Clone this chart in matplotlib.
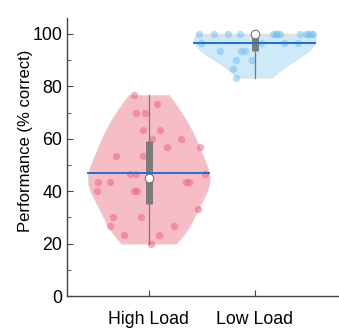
import numpy as np
import matplotlib.pyplot as plt

plt.rcParams.update({
    "font.family": ["Liberation Sans", "DejaVu Sans"],
    "axes.edgecolor": "#444",
    "axes.linewidth": 1.0,
})

groups = ["High Load", "Low Load"]

high_vals = [76.67, 73.33, 70, 70, 63.33, 63.33, 60, 60, 56.67, 56.67,
             53.33, 53.33, 46.67, 46.67, 46.67, 43.33, 43.33, 43.33, 43.33, 40,
             40, 40, 33.33, 30, 30, 26.67, 26.67, 23.33, 23.33, 20]
high_jit = [-0.14, 0.08, -0.12, -0.04, -0.05, 0.11, 0.03, 0.30, 0.17, 0.48,
            -0.31, -0.05, -0.18, -0.12, 0.53, -0.48, -0.37, 0.35, 0.38, -0.49,
            -0.14, -0.11, 0.46, -0.34, -0.07, -0.37, 0.24, -0.23, 0.10, 0.02]

low_vals = [100] * 13 + [96.67] * 4 + [93.33] * 3 + [90, 90, 86.67, 83.33]
low_jit = [-0.53, -0.38, -0.25, -0.14, 0.175, 0.20, 0.235, 0.43, 0.48, 0.53,
           0.55, 0.21, 0.50,
           -0.51, 0.06, 0.28, 0.41,
           -0.33, -0.13, -0.09,
           -0.175, -0.03, -0.21, -0.175]

fills = ["#f6b6c1", "#c9e7f8"]
dots = ["#ec5f7b", "#6cc0ee"]
bandwidths = [8.0, 7.0]
HALF_W = 0.575


def kde(vals, grid, bw):
    v = np.asarray(vals)[:, None]
    return np.exp(-0.5 * ((grid[None, :] - v) / bw) ** 2).sum(axis=0)


fig = plt.figure(figsize=(3.39, 3.29), dpi=100)
ax = fig.add_axes([0.198, 0.1, 0.81, 0.845])

for i, (vals, jit) in enumerate([(high_vals, high_jit), (low_vals, low_jit)]):
    pos = i + 1
    vals = np.asarray(vals, dtype=float)
    grid = np.linspace(vals.min(), vals.max(), 200)
    dens = kde(vals, grid, bandwidths[i])
    w = dens / dens.max() * HALF_W
    ax.fill_betweenx(grid, pos - w, pos + w, color=fills[i], alpha=0.9,
                     edgecolor="#d8d8d8", linewidth=0.6, zorder=1)
    ax.scatter(pos + np.asarray(jit), vals, s=28, color=dots[i], alpha=0.5,
               linewidths=0, zorder=2)
    # whisker, IQR box, mean line, median
    ax.plot([pos, pos], [vals.min(), vals.max()], color="#777", lw=0.9, zorder=3)
    q1, q3 = np.percentile(vals, [25, 75])
    ax.plot([pos, pos], [q1, q3], color="#7a7a7a", lw=5, solid_capstyle="butt",
            zorder=4)
    mean = vals.mean()
    mw = np.interp(mean, grid, w)
    ax.plot([pos - mw, pos + mw], [mean, mean], color="#1f6fd2", lw=1.4, zorder=5)
    ax.scatter([pos], [np.median(vals)], s=38, color="white", edgecolors="#777",
               linewidths=0.8, zorder=6)

ax.set_xlim(0.23, 2.82)
ax.set_ylim(0, 106)
ax.set_xticks([1, 2])
ax.set_xticklabels(groups, fontsize=12.8)
ax.set_yticks(range(0, 101, 20))
ax.set_yticks(range(10, 101, 20), minor=True)
ax.tick_params(axis="y", labelsize=12.8)
ax.tick_params(direction="in", length=4, color="#444", pad=3.5)
ax.tick_params(which="minor", direction="in", length=3, color="#444")
ax.tick_params(axis="x", pad=11)
ax.spines["top"].set_visible(False)
ax.spines["right"].set_visible(False)
ax.set_ylabel("Performance (% correct)", fontsize=12)
ax.yaxis.set_label_coords(-0.125, 0.56)

fig.savefig("out.png", dpi=100)
